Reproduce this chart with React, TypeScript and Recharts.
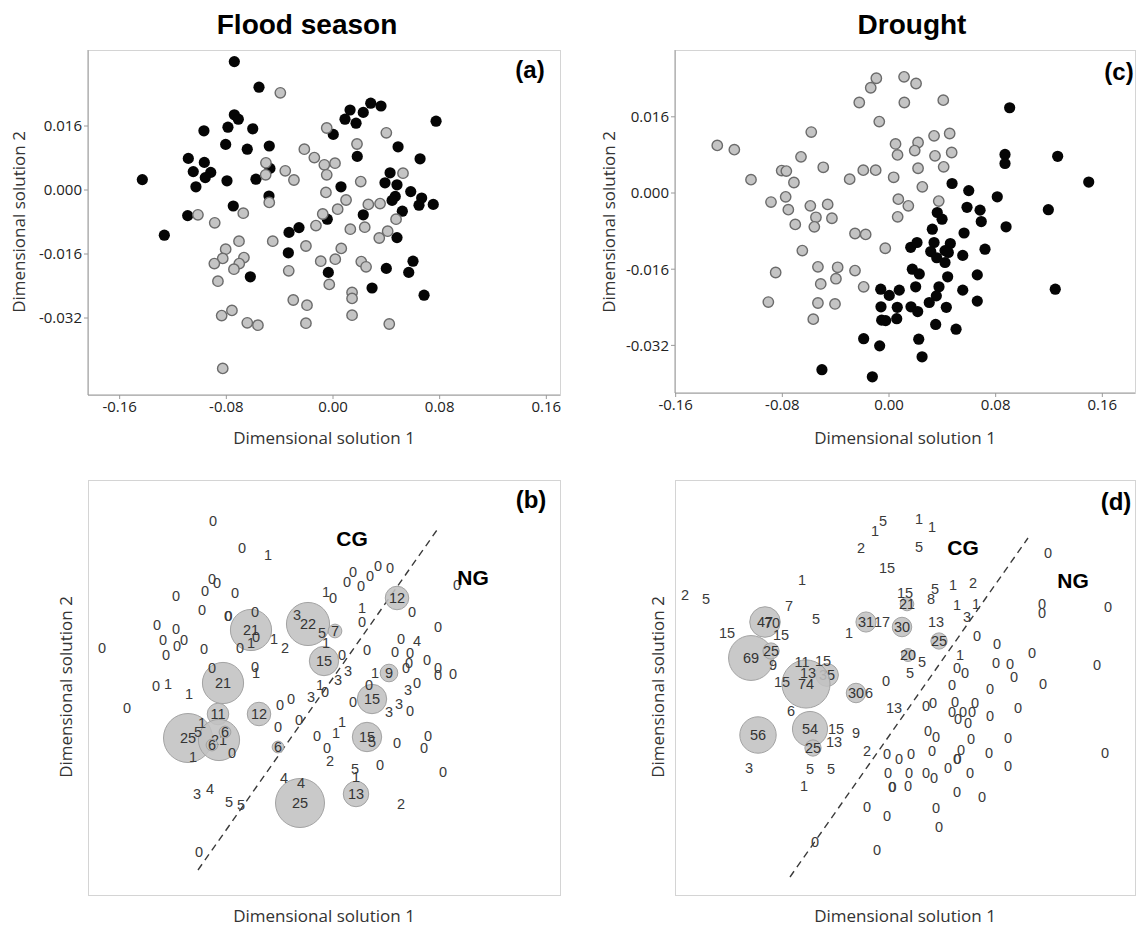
import React from 'react';
import { ScatterChart, Scatter, XAxis, YAxis, ReferenceLine } from 'recharts';

type P = [number, number];
type L = [number, number, number]; // [value, x, y]

// ---------- tick labels ----------
const xTicksTop = [-0.16, -0.08, 0, 0.08, 0.16];
const yTicksTop = [0.016, 0, -0.016, -0.032];

// ---------- panel (a) Flood season, MDS ----------
const floodBlack: P[] = [
  [-0.0740, 0.0321], [-0.0555, 0.0257], [-0.0740, 0.0188], [-0.0710, 0.0177], [-0.0968, 0.0148],
  [-0.0788, 0.0157], [-0.0602, 0.0153], [-0.0805, 0.0114], [-0.0643, 0.0102], [-0.0478, 0.0110],
  [-0.1085, 0.0079], [-0.0965, 0.0069], [-0.1048, 0.0046], [-0.0917, 0.0044], [-0.0958, 0.0031],
  [-0.1028, 0.0008], [-0.1430, 0.0026], [-0.0795, 0.0023], [-0.0578, 0.0027], [-0.0473, 0.0054],
  [-0.0480, -0.0015], [-0.0748, -0.0040], [-0.1090, -0.0064], [-0.1265, -0.0113], [-0.0330, -0.0106],
  [-0.0255, -0.0094], [-0.0335, -0.0157], [-0.0620, -0.0217], [-0.0043, -0.0073], [-0.0035, -0.0206],
  [0.0128, 0.0200], [0.0090, 0.0177], [0.0173, 0.0167], [0.0227, 0.0194], [0.0283, 0.0217],
  [0.0360, 0.0210], [0.0002, 0.0139], [0.0773, 0.0172], [0.0488, 0.0108], [0.0182, 0.0084],
  [0.0653, 0.0078], [0.0428, 0.0043], [0.0390, 0.0018], [0.0480, 0.0013], [0.0060, 0.0008],
  [0.0583, -0.0004], [0.0467, -0.0016], [0.0443, -0.0026], [0.0665, -0.0020], [0.0645, -0.0038],
  [0.0752, -0.0036], [0.0520, -0.0053], [0.0227, -0.0062], [0.0480, -0.0119], [0.0600, -0.0178],
  [0.0400, -0.0196], [0.0568, -0.0206], [0.0293, -0.0245], [0.0683, -0.0263],
];
const floodGrey: P[] = [
  [-0.0395, 0.0243], [-0.0047, 0.0155], [-0.0215, 0.0102], [-0.0140, 0.0081], [-0.0065, 0.0063],
  [-0.0047, 0.0038], [-0.0503, 0.0068], [-0.0505, 0.0038], [-0.0358, 0.0048], [-0.0293, 0.0025],
  [-0.0053, -0.0006], [-0.0478, -0.0031], [-0.0077, -0.0060], [-0.0128, -0.0089], [-0.1013, -0.0062],
  [-0.0887, -0.0082], [-0.0673, -0.0058], [-0.0705, -0.0128], [-0.0452, -0.0128], [-0.0203, -0.0140],
  [-0.0805, -0.0148], [-0.0827, -0.0171], [-0.0890, -0.0184], [-0.0668, -0.0169], [-0.0703, -0.0184],
  [-0.0743, -0.0198], [-0.0332, -0.0202], [-0.0092, -0.0178], [-0.0028, -0.0236], [-0.0863, -0.0228],
  [-0.0298, -0.0275], [-0.0195, -0.0288], [-0.0203, -0.0333], [-0.0758, -0.0301], [-0.0835, -0.0314],
  [-0.0643, -0.0332], [-0.0563, -0.0338], [-0.0827, -0.0446],
  [0.0400, 0.0143], [0.0180, 0.0115], [0.0015, 0.0067], [0.0525, 0.0042], [0.0208, 0.0021],
  [0.0098, -0.0025], [0.0035, -0.0048], [0.0265, -0.0036], [0.0353, -0.0034], [0.0473, -0.0073],
  [0.0130, -0.0098], [0.0238, -0.0093], [0.0347, -0.0120], [0.0410, -0.0103], [0.0062, -0.0146],
  [0.0017, -0.0173], [0.0212, -0.0179], [0.0248, -0.0192], [0.0143, -0.0256], [0.0143, -0.0271],
  [0.0143, -0.0313], [0.0422, -0.0335],
];

// ---------- panel (c) Drought, MDS ----------
const droughtGrey: P[] = [
  [-0.0095, 0.0241], [-0.0137, 0.0221], [0.0113, 0.0244], [-0.0223, 0.0190], [0.0115, 0.0190],
  [-0.0073, 0.0150], [-0.0583, 0.0128], [-0.1288, 0.0100], [-0.1160, 0.0091], [0.0049, 0.0103],
  [0.0064, 0.0080], [-0.0660, 0.0076], [-0.0493, 0.0054], [-0.0805, 0.0047], [-0.0770, 0.0046],
  [-0.0193, 0.0048], [-0.0100, 0.0048], [-0.1035, 0.0028], [-0.0713, 0.0022], [-0.0295, 0.0029],
  [0.0035, 0.0033], [-0.0775, -0.0008], [-0.0885, -0.0019], [-0.0755, -0.0035], [-0.0590, -0.0027],
  [-0.0460, -0.0024], [0.0070, -0.0013], [-0.0548, -0.0051], [-0.0428, -0.0053], [-0.0703, -0.0066],
  [-0.0560, -0.0071], [0.0065, -0.0050], [-0.0255, -0.0085], [-0.0175, -0.0087], [-0.0650, -0.0121],
  [-0.0028, -0.0116], [-0.0850, -0.0167], [-0.0533, -0.0155], [-0.0385, -0.0156], [-0.0255, -0.0163],
  [-0.0398, -0.0180], [-0.0512, -0.0191], [-0.0190, -0.0197], [-0.0905, -0.0229], [-0.0533, -0.0231],
  [-0.0405, -0.0233], [-0.0568, -0.0265],
  [0.0203, 0.0230], [0.0407, 0.0195], [0.0218, 0.0106], [0.0338, 0.0120], [0.0455, 0.0125],
  [0.0193, 0.0089], [0.0345, 0.0078], [0.0470, 0.0085], [0.0218, 0.0052], [0.0410, 0.0055],
  [0.0250, 0.0013], [0.0145, -0.0027], [0.0373, -0.0017],
];
const droughtBlack: P[] = [
  [-0.0062, -0.0202], [0.0002, -0.0215], [0.0077, -0.0204], [-0.0060, -0.0239], [0.0062, -0.0240],
  [-0.0055, -0.0267], [-0.0025, -0.0268], [0.0058, -0.0264], [-0.0190, -0.0306], [-0.0070, -0.0321],
  [-0.0503, -0.0371], [-0.0125, -0.0386],
  [0.0905, 0.0179], [0.0870, 0.0081], [0.0870, 0.0062], [0.1265, 0.0077], [0.1498, 0.0023],
  [0.0473, 0.0020], [0.0598, 0.0005], [0.0812, -0.0008], [0.0585, -0.0030], [0.0683, -0.0036],
  [0.1195, -0.0035], [0.0362, -0.0041], [0.0398, -0.0055], [0.0692, -0.0060], [0.0878, -0.0071],
  [0.0325, -0.0076], [0.0563, -0.0084], [0.0163, -0.0114], [0.0210, -0.0104], [0.0338, -0.0104],
  [0.0460, -0.0106], [0.0720, -0.0118], [0.0313, -0.0123], [0.0358, -0.0136], [0.0420, -0.0121],
  [0.0445, -0.0125], [0.0420, -0.0146], [0.0553, -0.0131], [0.0175, -0.0160], [0.0227, -0.0170],
  [0.0440, -0.0176], [0.0662, -0.0172], [0.0200, -0.0197], [0.0375, -0.0197], [0.0553, -0.0204],
  [0.0355, -0.0216], [0.0302, -0.0230], [0.0165, -0.0239], [0.0215, -0.0249], [0.0430, -0.0240],
  [0.0662, -0.0227], [0.1247, -0.0202], [0.0350, -0.0276], [0.0503, -0.0286], [0.0223, -0.0307],
  [0.0248, -0.0344],
];

// ---------- panel (b) Flood season, bubbles + labels ----------
const floodBubbles: L[] = [
  [21, -0.73, 0.58], [22, -0.16, 0.64], [15, 0.0, 0.27], [7, 0.11, 0.57], [12, 0.73, 0.9],
  [9, 0.65, 0.15], [21, -1.01, 0.05], [11, -1.06, -0.26], [12, -0.65, -0.26], [25, -1.36, -0.5],
  [21, -1.05, -0.52], [6, -1.12, -0.57], [6, -0.99, -0.44], [6, -0.46, -0.59], [25, -0.24, -1.15],
  [15, 0.48, -0.11], [15, 0.43, -0.49], [13, 0.32, -1.06],
];
const floodLabels: L[] = [
  [0, -1.11, 1.67], [0, -0.82, 1.4], [1, -0.56, 1.33], [0, -1.12, 1.09], [0, -1.07, 1.05],
  [0, -1.19, 0.97], [0, -0.89, 0.95], [0, -1.48, 0.92], [1, 0.02, 0.96], [0, -1.22, 0.78],
  [0, -0.96, 0.72], [0, -0.955, 0.725], [0, -0.69, 0.76], [0, -1.67, 0.63], [0, -1.48, 0.59],
  [0, -0.68, 0.51], [1, -0.73, 0.45], [0, -1.61, 0.48], [0, -1.4, 0.48], [0, -1.47, 0.42],
  [0, -2.22, 0.4], [0, -1.2, 0.39], [0, -0.84, 0.4], [1, -0.5, 0.49], [2, -0.39, 0.4],
  [0, -1.58, 0.33], [3, -0.27, 0.73], [5, -0.02, 0.55], [0, -0.69, 0.21], [1, -0.68, 0.15],
  [0, -1.12, 0.2], [0, -1.68, 0.02], [1, -1.56, 0.04],
  [0, 0.29, 1.16], [0, 0.23, 1.06], [0, 0.37, 1.02], [0, 0.46, 1.12], [0, 0.54, 1.22],
  [0, 0.66, 1.2], [0, 0.09, 0.9], [0, 1.33, 1.03], [1, 0.38, 0.8], [0, 0.38, 0.66],
  [0, 0.88, 0.76], [0, 1.14, 0.61], [1, 0.02, 0.45], [0, 0.18, 0.33], [0, 0.43, 0.38],
  [0, 0.77, 0.49], [4, 0.93, 0.47], [0, 0.71, 0.36], [0, 0.86, 0.35], [0, 1.03, 0.28],
  [0, 0.85, 0.25], [0, 0.82, 0.2], [1, 0.51, 0.15], [0, 1.14, 0.2], [0, 1.14, 0.13],
  [0, 1.29, 0.14], [3, 0.24, 0.17], [3, 0.14, 0.08], [0, 0.45, 0.03], [3, 0.84, -0.02],
  [0, 0.93, 0.05], [1, -0.04, 0.03], [0, 0.01, -0.04], [3, -0.13, -0.09], [1, -1.35, -0.06],
  [0, -1.97, -0.2], [0, 0.29, -0.14], [3, 0.65, -0.24], [3, 0.75, -0.16], [0, 0.86, -0.23],
  [1, 0.18, -0.34], [1, 0.12, -0.45], [5, 0.48, -0.54], [0, 0.73, -0.55], [0, 1.04, -0.48],
  [0, 1.0, -0.6], [0, 0.03, -0.6], [2, 0.06, -0.73], [0, 0.56, -0.77], [5, 0.31, -0.81],
  [1, 0.32, -0.89], [0, 1.19, -0.84], [2, 0.77, -1.16],
  [0, -0.44, -0.17], [0, -0.33, -0.11], [0, -0.46, -0.39], [0, -0.25, -0.32], [0, -0.07, -0.48],
  [1, -1.22, -0.35], [5, -1.26, -0.44], [0, -0.92, -0.65], [1, -1.31, -0.69], [4, -0.4, -0.9],
  [4, -0.23, -0.95], [3, -1.27, -1.06], [4, -1.14, -1.01], [5, -0.95, -1.14], [5, -0.83, -1.17],
  [0, -1.25, -1.64],
];
const floodDivider = [{ x: -1.26, y: -1.82 }, { x: 1.13, y: 1.58 }];
const floodGroups = [{ t: 'CG', x: 0.28, y: 1.5 }, { t: 'NG', x: 1.49, y: 1.11 }];

// ---------- panel (d) Drought, bubbles + labels ----------
const droughtBubbles: L[] = [
  [47, -1.4, 0.66], [31, -0.39, 0.66], [69, -1.54, 0.3], [25, -1.34, 0.37], [35, -0.78, 0.13],
  [74, -0.99, 0.04], [30, -0.49, -0.05], [56, -1.47, -0.47], [54, -0.95, -0.41], [25, -0.92, -0.6],
  [21, 0.02, 0.84], [30, -0.03, 0.61], [25, 0.34, 0.47], [20, 0.03, 0.33],
];
const droughtLabels: L[] = [
  [70, -1.33, 0.65], [5, -0.22, 1.67], [1, -0.3, 1.57], [2, -0.44, 1.4], [15, -0.18, 1.2],
  [1, -1.03, 1.08], [2, -2.2, 0.93], [5, -1.99, 0.89], [7, -1.16, 0.82], [5, -0.89, 0.69],
  [1, -0.56, 0.55], [17, -0.23, 0.66], [15, -1.78, 0.55], [15, -1.24, 0.53], [9, -1.32, 0.23],
  [11, -1.03, 0.26], [15, -0.82, 0.27], [13, -0.97, 0.15], [15, -1.23, 0.06], [0, -0.19, 0.07],
  [6, -0.36, -0.05], [13, -0.11, -0.2], [6, -1.14, -0.23], [15, -0.69, -0.41], [9, -0.49, -0.45],
  [13, -0.71, -0.54], [2, -0.38, -0.63], [0, -0.18, -0.66], [0, -0.06, -0.71], [0, -0.17, -0.85],
  [0, -0.13, -0.99], [0, -0.125, -0.985], [3, -1.56, -0.8], [5, -0.95, -0.81], [5, -0.74, -0.81],
  [1, -1.01, -0.98], [0, -0.38, -1.19], [0, -0.18, -1.28], [0, -0.9, -1.54], [0, -0.28, -1.62],
  [1, 0.14, 1.69], [1, 0.27, 1.61], [5, 0.14, 1.41], [0, 1.43, 1.35], [15, 0.0, 0.95],
  [5, 0.3, 0.99], [8, 0.26, 0.89], [1, 0.48, 1.03], [2, 0.68, 1.05], [1, 0.52, 0.83],
  [1, 0.71, 0.84], [3, 0.62, 0.71], [13, 0.31, 0.66], [0, 0.72, 0.52], [0, 0.92, 0.44],
  [0, 1.27, 0.35], [0, 1.37, 0.84], [0, 1.37, 0.75], [0, 2.03, 0.81], [0, 1.92, 0.23],
  [5, 0.17, 0.26], [5, 0.05, 0.15], [1, 0.55, 0.33], [0, 0.52, 0.2], [0, 0.6, 0.15],
  [0, 0.91, 0.25], [0, 1.05, 0.24], [0, 1.09, 0.11], [0, 1.38, 0.04], [0, 0.47, 0.03],
  [0, 0.85, -0.01],
  [0, 0.21, -0.18], [0, 0.28, -0.15], [0, 0.5, -0.14], [0, 0.47, -0.24], [0, 0.58, -0.24],
  [0, 0.67, -0.24], [0, 0.7, -0.15], [0, 0.53, -0.31], [0, 0.63, -0.35], [0, 0.85, -0.28],
  [0, 1.13, -0.2], [0, 0.23, -0.43], [0, 0.31, -0.49], [0, 0.66, -0.51], [0, 1.03, -0.5],
  [0, 0.06, -0.66], [0, 0.27, -0.63], [0, 0.56, -0.62], [0, 0.52, -0.71], [0, 0.525, -0.705],
  [0, 0.43, -0.8], [0, 0.84, -0.65], [0, 1.03, -0.78], [0, 2.0, -0.65], [0, 0.04, -0.85],
  [0, 0.21, -0.85], [0, 0.29, -0.9], [0, 0.65, -0.85], [0, 0.03, -0.98], [0, 0.52, -1.04],
  [0, 0.77, -1.09], [0, 0.31, -1.2], [0, 0.34, -1.39],
];
const droughtDivider = [{ x: -1.15, y: -1.89 }, { x: 1.23, y: 1.5 }];
const droughtGroups = [{ t: 'CG', x: 0.58, y: 1.41 }, { t: 'NG', x: 1.68, y: 1.08 }];

// ---------- helpers ----------
const SANS = '"Open Sans", "DejaVu Sans", sans-serif';
const ARIAL = '"Liberation Sans", Arial, sans-serif';

const toPts = (a: P[]) => a.map(([x, y]) => ({ x, y }));
const toLab = (a: L[]) => a.map(([v, x, y]) => ({ v, x, y }));

const blackDot = (p: any) => <circle cx={p.cx} cy={p.cy} r={5.6} fill="#050505" />;
const greyDot = (p: any) => (
  <circle cx={p.cx} cy={p.cy} r={5.2} fill="#c4c4c4" stroke="#6b6b6b" strokeWidth={1.4} />
);
const bubbleShape = (k: number) => (p: any) => (
  <g>
    <circle cx={p.cx} cy={p.cy} r={p.payload.v * k} fill="#c2c2c2" fillOpacity={0.88} stroke="#a3a3a3" strokeWidth={1} />
    <text x={p.cx} y={p.cy} textAnchor="middle" dominantBaseline="central" fontSize={14.5} fontFamily={ARIAL} fill="#333">
      {p.payload.v}
    </text>
  </g>
);
const labelShape = (p: any) => (
  <text x={p.cx} y={p.cy} textAnchor="middle" dominantBaseline="central" fontSize={14.5} fontFamily={ARIAL} fill="#3a3a3a">
    {p.payload.v}
  </text>
);
const groupShape = (p: any) => (
  <text x={p.cx} y={p.cy} textAnchor="middle" dominantBaseline="central" fontSize={21} fontWeight="bold" fontFamily={ARIAL} fill="#000">
    {p.payload.t}
  </text>
);

const tickStyle = { fontSize: 15, fill: '#222', fontFamily: SANS };

function TopPanel(props: {
  left: number; top: number; width: number; height: number;
  margin: { top: number; right: number; left: number; bottom: number };
  xDomain: [number, number]; yDomain: [number, number];
  black: P[]; grey: P[];
}) {
  return (
    <div style={{ position: 'absolute', left: props.left, top: props.top }}>
      <ScatterChart width={props.width} height={props.height} margin={props.margin}>
        <XAxis type="number" dataKey="x" domain={props.xDomain} ticks={xTicksTop} allowDataOverflow
          tickFormatter={(v: number) => v.toFixed(2)} height={30} tick={tickStyle}
          axisLine={{ stroke: '#9a9a9a' }} tickLine={{ stroke: '#9a9a9a' }} tickSize={4} />
        <YAxis type="number" dataKey="y" domain={props.yDomain} ticks={yTicksTop} allowDataOverflow
          tickFormatter={(v: number) => v.toFixed(3)} width={60} tick={tickStyle}
          axisLine={{ stroke: '#9a9a9a' }} tickLine={{ stroke: '#9a9a9a' }} tickSize={4} />
        <Scatter data={toPts(props.black)} shape={blackDot} isAnimationActive={false} />
        <Scatter data={toPts(props.grey)} shape={greyDot} isAnimationActive={false} />
      </ScatterChart>
    </div>
  );
}

function BottomPanel(props: {
  left: number; top: number; width: number; height: number;
  margin: { top: number; right: number; left: number; bottom: number };
  xDomain: [number, number]; yDomain: [number, number];
  bubbles: L[]; labels: L[]; k: number; divider: { x: number; y: number }[];
  groups: { t: string; x: number; y: number }[];
}) {
  return (
    <div style={{ position: 'absolute', left: props.left, top: props.top }}>
      <ScatterChart width={props.width} height={props.height} margin={props.margin}>
        <XAxis type="number" dataKey="x" domain={props.xDomain} hide allowDataOverflow />
        <YAxis type="number" dataKey="y" domain={props.yDomain} hide allowDataOverflow />
        <ReferenceLine segment={props.divider} stroke="#3a3a3a" strokeWidth={1.4} strokeDasharray="7 5" />
        <Scatter data={toLab(props.bubbles)} shape={bubbleShape(props.k)} isAnimationActive={false} />
        <Scatter data={toLab(props.labels)} shape={labelShape} isAnimationActive={false} />
        <Scatter data={props.groups} shape={groupShape} isAnimationActive={false} />
      </ScatterChart>
    </div>
  );
}

const Txt = (p: { x: number; y: number; children: React.ReactNode; style?: React.CSSProperties; rotate?: boolean }) => (
  <div style={{
    position: 'absolute', left: p.x, top: p.y, whiteSpace: 'nowrap',
    transform: `translate(-50%, -50%)${p.rotate ? ' rotate(-90deg)' : ''}`, ...p.style,
  }}>{p.children}</div>
);

const Frame = (p: { x: number; y: number; w: number; h: number }) => (
  <div style={{ position: 'absolute', left: p.x, top: p.y, width: p.w, height: p.h, border: '1px solid #d4d4d4', boxSizing: 'border-box' }} />
);

const axisTitle: React.CSSProperties = { fontFamily: SANS, fontSize: 17, color: '#333' };
const panelTag: React.CSSProperties = { fontFamily: ARIAL, fontSize: 24, fontWeight: 'bold', color: '#000' };
const title: React.CSSProperties = { fontFamily: ARIAL, fontSize: 28, fontWeight: 'bold', color: '#000' };

export default function App() {
  return (
    <div style={{ position: 'absolute', left: 0, top: 0, width: 1140, height: 925, background: '#fff', overflow: 'hidden' }}>
      <Frame x={88} y={50} w={473} h={346} />
      <Frame x={675} y={50} w={461} h={344} />
      <Frame x={88} y={480} w={473} h={416} />
      <Frame x={675} y={480} w={461} h={416} />

      <TopPanel left={0} top={40} width={580} height={400}
        margin={{ top: 10, right: 20, left: 28, bottom: 15 }}
        xDomain={[-0.18375, 0.17025]} yDomain={[-0.05125, 0.035]}
        black={floodBlack} grey={floodGrey} />
      <TopPanel left={590} top={40} width={550} height={400}
        margin={{ top: 10, right: 5, left: 25, bottom: 17 }}
        xDomain={[-0.1605, 0.1845]} yDomain={[-0.042, 0.03003]}
        black={droughtBlack} grey={droughtGrey} />

      <BottomPanel left={0} top={470} width={580} height={440}
        margin={{ top: 10, right: 20, left: 88, bottom: 15 }}
        xDomain={[-2.36, 2.36]} yDomain={[-2.07, 2.08]}
        bubbles={floodBubbles} labels={floodLabels} k={0.98}
        divider={floodDivider} groups={floodGroups} />
      <BottomPanel left={590} top={470} width={550} height={440}
        margin={{ top: 10, right: 5, left: 85, bottom: 15 }}
        xDomain={[-2.3, 2.3]} yDomain={[-2.07, 2.08]}
        bubbles={droughtBubbles} labels={droughtLabels} k={0.325}
        divider={droughtDivider} groups={droughtGroups} />

      <Txt x={307} y={25} style={title}>Flood season</Txt>
      <Txt x={912} y={25} style={title}>Drought</Txt>

      <Txt x={530} y={70} style={panelTag}>(a)</Txt>
      <Txt x={1119} y={72} style={panelTag}>(c)</Txt>
      <Txt x={531} y={500} style={panelTag}>(b)</Txt>
      <Txt x={1116} y={502} style={panelTag}>(d)</Txt>

      <Txt x={324} y={437} style={axisTitle}>Dimensional solution 1</Txt>
      <Txt x={905} y={437} style={axisTitle}>Dimensional solution 1</Txt>
      <Txt x={324} y={915} style={axisTitle}>Dimensional solution 1</Txt>
      <Txt x={905} y={915} style={axisTitle}>Dimensional solution 1</Txt>

      <Txt x={18} y={222} rotate style={axisTitle}>Dimensional solution 2</Txt>
      <Txt x={608} y={222} rotate style={axisTitle}>Dimensional solution 2</Txt>
      <Txt x={65} y={687} rotate style={axisTitle}>Dimensional solution 2</Txt>
      <Txt x={657} y={687} rotate style={axisTitle}>Dimensional solution 2</Txt>
    </div>
  );
}
